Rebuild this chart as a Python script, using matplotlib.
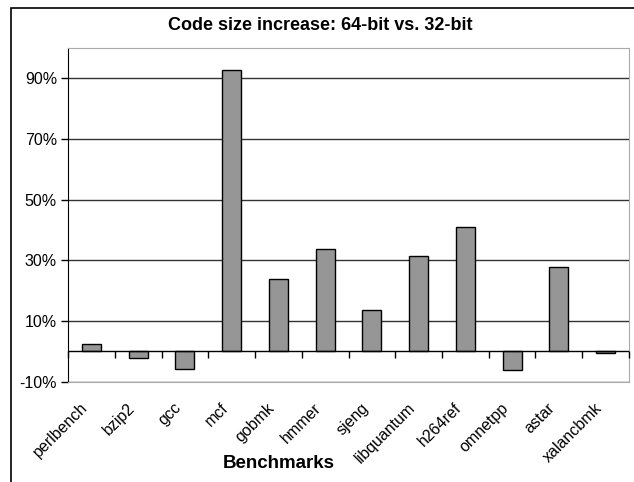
import numpy as np
import matplotlib.pyplot as plt
from matplotlib.patches import Rectangle
from matplotlib.transforms import ScaledTranslation

plt.rcParams['font.family'] = ['Liberation Sans', 'DejaVu Sans']

benchmarks = ['perlbench', 'bzip2', 'gcc', 'mcf', 'gobmk', 'hmmer', 'sjeng',
              'libquantum', 'h264ref', 'omnetpp', 'astar', 'xalancbmk']
increase = [2.6, -2.2, -5.9, 92.9, 23.9, 33.8, 13.7, 31.5, 40.9, -6.0, 27.9, -0.4]
yticks = [-10, 10, 30, 50, 70, 90]

fig = plt.figure(figsize=(6.34, 4.82), dpi=100)
ax = fig.add_axes([0.1073, 0.208, 0.8848, 0.6925])

x = np.arange(len(benchmarks))
ax.bar(x, increase, width=0.41, color='#969696', edgecolor='black', linewidth=1, zorder=3)

ax.set_xlim(-0.5, len(benchmarks) - 0.5)
ax.set_ylim(-10, 100)
ax.set_yticks(yticks)
ax.set_yticklabels(['%d%%' % t for t in yticks], fontsize=11.5)
ax.yaxis.grid(True, color='#333333', linewidth=1)
ax.set_axisbelow(True)
ax.tick_params(axis='y', length=5, width=1, pad=3, color='black')

ax.set_xticks(x)
ax.set_xticklabels(benchmarks, rotation=45, ha='right', va='center',
                   rotation_mode='anchor', fontsize=11.5)
ax.tick_params(axis='x', length=0, pad=17)
shift = ScaledTranslation(-0.06, 0, fig.dpi_scale_trans)
for lab in ax.get_xticklabels():
    lab.set_transform(lab.get_transform() + shift)

# zero line with category boundary ticks
ax.axhline(0, color='black', linewidth=1, zorder=4)
bounds = np.arange(len(benchmarks) + 1) - 0.5
ax.plot(bounds, np.zeros(len(bounds)), linestyle='none', marker=3,
        markersize=5, markeredgewidth=1, color='black', zorder=4, clip_on=False)

for s in ['top', 'right', 'bottom']:
    ax.spines[s].set_color('#aaaaaa')
ax.spines['left'].set_color('black')

fig.text(0.505, 0.948, 'Code size increase: 64-bit vs. 32-bit', ha='center', va='center',
         fontsize=13, fontweight='bold')
fig.text(0.439, 0.039, 'Benchmarks', ha='center', va='center', fontsize=13.5, fontweight='bold')

fig.add_artist(Rectangle((11 / 634, -0.1), 1.2, 1.1 - 8 / 482, transform=fig.transFigure,
                         fill=False, edgecolor='black', linewidth=1.2))

fig.savefig('out.png', dpi=100)
